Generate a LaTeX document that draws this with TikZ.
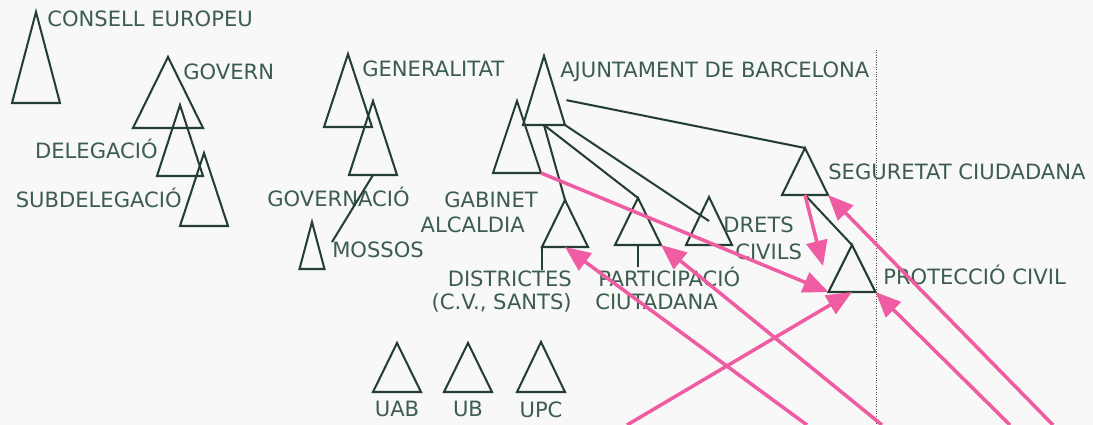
\documentclass[tikz,border=0pt]{standalone}
\usepackage{fontspec}
\setmainfont{DejaVu Sans}
\usetikzlibrary{arrows.meta,positioning,calc}
\definecolor{inkgreen}{RGB}{36,62,50}
\definecolor{txtgreen}{RGB}{60,92,78}
\definecolor{linkpink}{RGB}{240,92,162}
\definecolor{paper}{RGB}{247,248,247}

\begin{document}
\begin{tikzpicture}[
        x=0.025cm, y=-0.025cm,
        font=\fontsize{15}{17}\selectfont,
        outline/.style={draw=inkgreen, line width=1.45pt, line join=miter},
        lbl/.style={text=txtgreen, inner sep=0pt},
        link/.style={draw=inkgreen, line width=1.45pt},
        hot/.style={draw=linkpink, line width=2.5pt, -{Triangle[length=18pt,width=15pt]}},
        pics/tri/.style 2 args={code={
            \coordinate (-a) at (0,0);
            \coordinate (-l) at (-#1,#2);
            \coordinate (-r) at (#1,#2);
            \coordinate (-b) at (0,#2);
            \draw[outline] (0,0) -- (-#1,#2) -- (#1,#2) -- cycle;
        }}
    ]
        \fill[paper] (0,0) rectangle (1093,425);
        \useasboundingbox (0,0) rectangle (1093,425);

        % State level
        \pic (ce) at (36,12) {tri={24}{91}};
        \pic (gov) at (168,57) {tri={35}{71}};
        \pic (del) at (180,105) {tri={23}{71}};
        \pic (sub) at (204,153) {tri={24}{73}};
        \node[lbl, anchor=base west] (consell) at (47,27) {CONSELL EUROPEU};
        \node[lbl, anchor=base west] (govern) at (183,80) {GOVERN};
        \node[lbl, anchor=base east] (delegacio) at (158,159) {DELEGACIÓ};
        \node[lbl, anchor=base east] (subdelegacio) at (182,208) {SUBDELEGACIÓ};

        % Generalitat
        \pic (gen) at (348,54) {tri={24}{73}};
        \pic (gvn) at (373,101) {tri={24}{74}};
        \pic (mos) at (312,222) {tri={12.5}{47}};
        \node[lbl, anchor=base west] (generalitat) at (362,77) {GENERALITAT};
        \node[lbl, anchor=base west] (governacio) at (267,207) {GOVERNACIÓ};
        \node[lbl, anchor=base west] (mossos) at (332,258) {MOSSOS};
        \draw[link] (gvn-b) -- (mossos.north west);

        % Ajuntament
        \pic (ajt) at (544,56) {tri={21}{69}};
        \pic (gab) at (517,101) {tri={24}{72}};
        \pic (dis) at (565,200) {tri={23}{47}};
        \pic (par) at (638,198) {tri={23}{47}};
        \pic (drc) at (709,197) {tri={23}{48}};
        \pic (seg) at (805,148) {tri={23}{47}};
        \pic (pro) at (852,245) {tri={23.5}{47}};
        \node[lbl, anchor=base west] (ajuntament) at (560,78) {AJUNTAMENT DE BARCELONA};
        \node[lbl, anchor=base east] (gabinet) at (538,208) {GABINET};
        \node[lbl, anchor=base east] (alcaldia) at (525,233) {ALCALDIA};
        \node[lbl, anchor=base east] (districtes) at (572,287) {DISTRICTES};
        \node[lbl, anchor=base east] (sants) at (572,310) {(C.V., SANTS)};
        \node[lbl, anchor=base west] (participacio) at (598,287) {PARTICIPACIÓ};
        \node[lbl, anchor=base west] (ciutadana) at (595,310) {CIUTADANA};
        \node[lbl, anchor=base west] (drets) at (723,233) {DRETS};
        \node[lbl, anchor=base west] (civils) at (735,260) {CIVILS};
        \node[lbl, anchor=base west] (seguretat) at (828,180) {SEGURETAT CIUDADANA};
        \node[lbl, anchor=base west] (proteccio) at (883,285) {PROTECCIÓ CIVIL};

        \draw[link] ($(ajt-a)!.64!(ajt-r)+(9,0)$) -- (seg-a);
        \draw[link] (ajt-b) -- (dis-a);
        \draw[link] (ajt-b) -- (par-a);
        \draw[link] (ajt-r) -- ($(drc-a)!.5!(drc-b)$);
        \draw[link] (seg-b) -- (pro-a);
        \draw[link] (dis-l) -- ++(0,23);
        \draw[link] (par-b) -- ++(0,22);

        % Universities
        \pic (uab) at (397,343) {tri={24}{49}};
        \pic (ub) at (468,343) {tri={24}{49}};
        \pic (upc) at (541,342) {tri={24}{50}};
        \node[lbl, below=6pt of uab-b] (uablbl) {UAB};
        \node[lbl, below=6pt of ub-b] (ublbl) {UB};
        \node[lbl, below=6pt of upc-b, yshift=-0.7pt] (upclbl) {UPC};

        % Dotted border
        \coordinate (dtop) at (876,50);
        \coordinate (dbot) at (876,425);
        \draw[densely dotted, line width=0.7pt, gray!60!black] (dtop) -- (dbot);

        % Pink arrows
        \coordinate (segtip) at (823,266);
        \coordinate (foot1) at (627,425);
        \coordinate (foot2) at (807,425);
        \coordinate (foot3) at (882,425);
        \coordinate (foot4) at (1010,425);
        \coordinate (foot5) at (1053,425);
        \draw[hot] (gab-r) -- (pro-l);
        \draw[hot] (seg-b) -- (segtip);
        \draw[hot] (foot5) -- (seg-r);
        \draw[hot] (foot4) -- (pro-r);
        \draw[hot] (foot1) -- (pro-b);
        \draw[hot] (foot2) -- (dis-b);
        \draw[hot] (foot3) -- (par-r);
    \end{tikzpicture}
\end{document}
